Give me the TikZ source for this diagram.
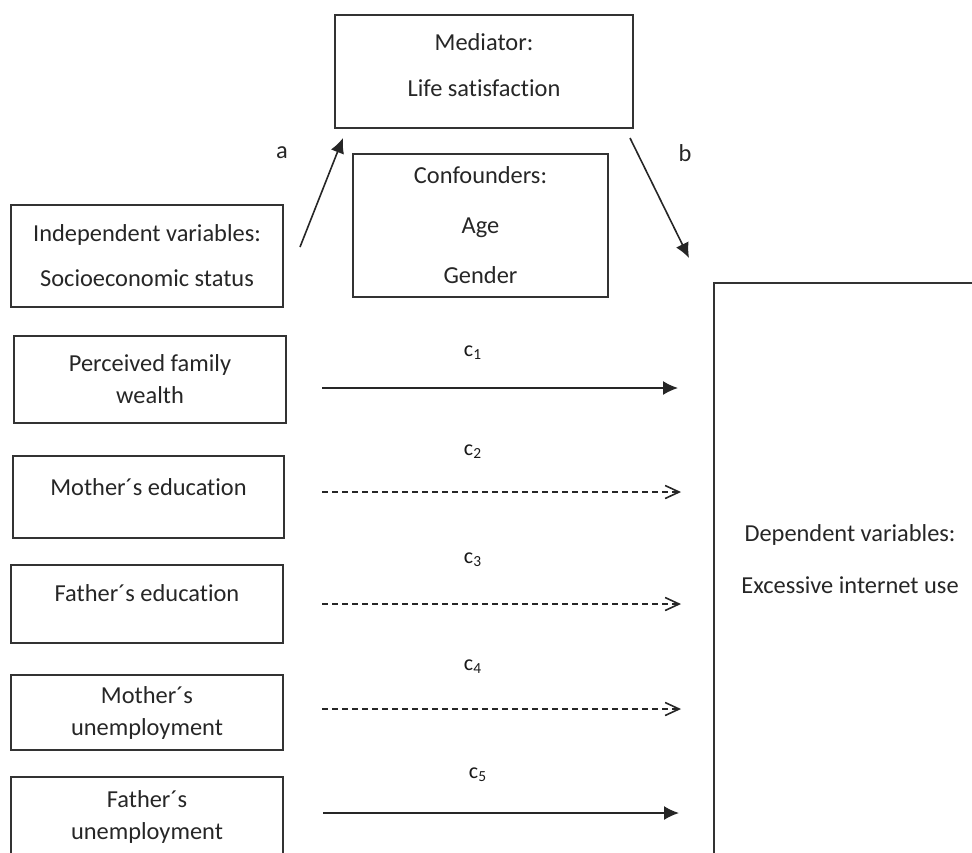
\documentclass[tikz,border=0pt]{standalone}
\usepackage{fontspec}
\setmainfont[Ligatures={NoCommon}]{Carlito}
\usetikzlibrary{arrows.meta}
\tikzset{
  box/.style={draw=black!80, line width=0.9pt, align=center, inner sep=0pt, text=black!85, font=\fontsize{12.2}{16}\selectfont},
  fullarrow/.style={draw=black!85, line width=0.8pt, -{Latex[length=7.5pt,width=7pt]}},
  dasharrow/.style={draw=black!85, line width=0.8pt, dash pattern=on 3pt off 2pt, -{Straight Barb[length=7pt,width=6.5pt]}},
  pathletter/.style={text=black!85, font=\fontsize{12.2}{16}\selectfont},
  pathlabel/.style={text=black!90, font=\fontsize{11}{13}\selectfont},
}

\begin{document}
\begin{tikzpicture}[x=0.5pt, y=-0.5pt]
		%%%%% START %%%%%
		\path[use as bounding box, clip] (0,0) rectangle (972,852);
		
		\node[box, minimum width=149pt, minimum height=56.5pt, text depth=6.5pt] (med) at (484,71.5) {Mediator:\\[7pt]Life satisfaction};
		\node[box, minimum width=127.5pt, minimum height=71.5pt] (conf) at (480.5,225.5) {Confounders:\\[9pt]Age\\[9pt]Gender};
		
		\node[box, minimum width=136pt, minimum height=51pt] (indep) at (147,256) {Independent variables:\\[6.5pt]Socioeconomic status};
		\node[box, minimum width=136pt, minimum height=43.5pt] (wealth) at (150,379.5) {Perceived family\\wealth};
		\node[box, minimum width=135.5pt, minimum height=41pt, text depth=10pt] (momedu) at (148.5,497) {Mother´s education};
		\node[box, minimum width=136pt, minimum height=39pt, text depth=11pt] (dadedu) at (147,604) {Father´s education};
		\node[box, minimum width=136pt, minimum height=37.5pt] (momjob) at (147,712.5) {Mother´s\\unemployment};
		\node[box, minimum width=136pt, minimum height=40pt] (dadjob) at (147,817) {Father´s\\unemployment};
		
		\node[box, minimum width=136pt, minimum height=308.5pt, text depth=32.5pt] (dep) at (850,591.5) {Dependent variables:\\[10pt]Excessive internet use};
		
		\coordinate (a0) at (300,247);
		\coordinate (a1) at (343,138);
		\draw[fullarrow] (a0) -- (a1);
		\node[pathletter] (la) at (282,153) {a};
		
		\coordinate (b0) at (630,138);
		\coordinate (b1) at (689,258);
		\draw[fullarrow] (b0) -- (b1);
		\node[pathletter] (lb) at (685,153) {b};
		
		\coordinate (c1s) at (322,388);
		\coordinate (c1e) at (678,388);
		\draw[fullarrow] (c1s) -- (c1e);
		\node[pathlabel] (lc1) at (473,353) {c\textsubscript{1}};
		
		\coordinate (c2s) at (322,492);
		\coordinate (c2e) at (681,492);
		\draw[dasharrow] (c2s) -- (c2e);
		\node[pathlabel] (lc2) at (473,452) {c\textsubscript{2}};
		
		\coordinate (c3s) at (322,604);
		\coordinate (c3e) at (681,604);
		\draw[dasharrow] (c3s) -- (c3e);
		\node[pathlabel] (lc3) at (473,560) {c\textsubscript{3}};
		
		\coordinate (c4s) at (322,709);
		\coordinate (c4e) at (681,709);
		\draw[dasharrow] (c4s) -- (c4e);
		\node[pathlabel] (lc4) at (473,667) {c\textsubscript{4}};
		
		\coordinate (c5s) at (323,813);
		\coordinate (c5e) at (679,813);
		\draw[fullarrow] (c5s) -- (c5e);
		\node[pathlabel] (lc5) at (478,775) {c\textsubscript{5}};
		
		%%%%% END %%%%%
\end{tikzpicture}
\end{document}
